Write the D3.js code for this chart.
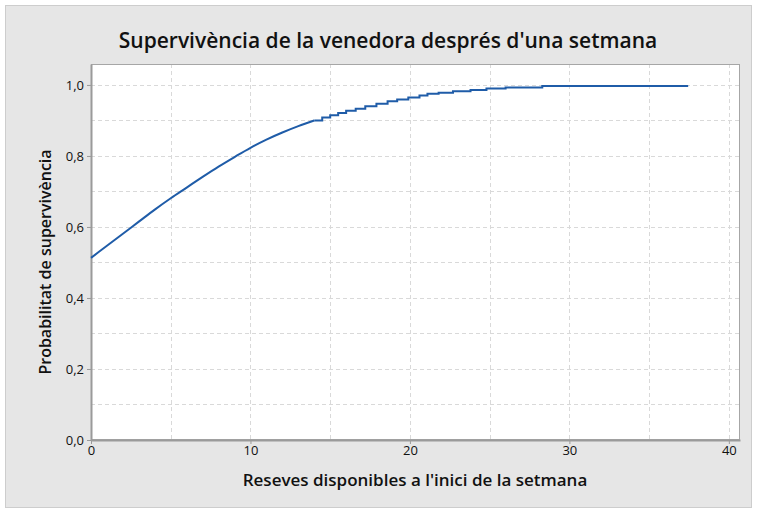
<!DOCTYPE html>
<html>
<head>
<meta charset="utf-8">
<script src="https://cdn.jsdelivr.net/npm/d3@7"></script>
<style>
  body { margin: 0; background: #fff; }
  text { font-family: "Open Sans", "Noto Sans", sans-serif; fill: #111; }
</style>
</head>
<body>
<div id="chart"></div>
<script>
// low stock: steps are too fine to see, read as a running line
var stockFine = [0, 1, 2, 3, 4, 5, 6, 7, 8, 9, 10, 11, 12, 13, 14];
var survivalFine = [0.513, 0.547, 0.581, 0.615, 0.649, 0.681, 0.711, 0.741, 0.770, 0.797,
                    0.823, 0.846, 0.866, 0.884, 0.900];
// higher stock: visible steps
var stockStep = [14, 14.5, 15, 15.5, 16, 16.6, 17.2, 17.9, 18.6, 19.2, 19.9, 20.6, 21.1, 21.8,
                 22.7, 23.8, 24.8, 26.0, 28.3, 37.45];
var survivalStep = [0.900, 0.908, 0.915, 0.921, 0.927, 0.933, 0.940, 0.947, 0.954, 0.959, 0.965,
                    0.970, 0.975, 0.978, 0.982, 0.986, 0.990, 0.993, 0.997, 0.997];
var xTicks = [0, 10, 20, 30, 40];
var yTicks = [0, 0.2, 0.4, 0.6, 0.8, 1.0];
var xGrid = [5, 10, 15, 20, 25, 30, 35, 40];
var yGrid = [0.1, 0.2, 0.3, 0.4, 0.5, 0.6, 0.7, 0.8, 0.9, 1.0];

var W = 758, H = 513;
var margin = {top: 64, right: 18, bottom: 73, left: 91},
    width = W - margin.left - margin.right,
    height = H - margin.top - margin.bottom;

var svg = d3.select("#chart")
    .append("svg")
        .attr("width", W)
        .attr("height", H);

// outer grey panel
svg.append("rect")
    .attr("x", 5.5).attr("y", 5.5)
    .attr("width", 746).attr("height", 502)
    .attr("fill", "#e6e6e6")
    .attr("stroke", "#cdcdcd");

svg.append("text")
    .attr("x", 388).attr("y", 48)
    .attr("text-anchor", "middle")
    .attr("font-size", "21px")
    .attr("font-weight", 600)
    .text("Supervivència de la venedora després d'una setmana");

var g = svg.append("g")
    .attr("transform", "translate(" + margin.left + "," + margin.top + ")");

var x = d3.scaleLinear().domain([0, 40.7]).range([0, width]);
var y = d3.scaleLinear().domain([0, 1.059]).range([height, 0]);

g.append("rect")
    .attr("width", width).attr("height", height)
    .attr("fill", "#fff");

// grid
g.append("g").selectAll("line")
    .data(xGrid).enter().append("line")
        .attr("x1", function(d){ return Math.round(x(d)) + 0.5; })
        .attr("x2", function(d){ return Math.round(x(d)) + 0.5; })
        .attr("y1", 0).attr("y2", height)
        .attr("stroke", "#d9d9d9")
        .attr("stroke-dasharray", "4,3");
g.append("g").selectAll("line")
    .data(yGrid).enter().append("line")
        .attr("y1", function(d){ return Math.round(y(d)) + 0.5; })
        .attr("y2", function(d){ return Math.round(y(d)) + 0.5; })
        .attr("x1", 0).attr("x2", width)
        .attr("stroke", "#d9d9d9")
        .attr("stroke-dasharray", "4,3");

// frame
g.append("rect")
    .attr("x", 0.5).attr("y", 0.5)
    .attr("width", width - 1).attr("height", height - 1)
    .attr("fill", "none")
    .attr("stroke", "#a6a6a6");

// axes
var xAxis = g.append("g")
    .attr("transform", "translate(0," + height + ")")
    .call(d3.axisBottom(x).tickValues(xTicks).tickSize(4).tickSizeOuter(0).tickPadding(2));
var yAxis = g.append("g")
    .call(d3.axisLeft(y).tickValues(yTicks).tickSize(4).tickSizeOuter(0).tickPadding(3)
        .tickFormat(function(d){ return d3.format(".1f")(d).replace(".", ","); }));
[xAxis, yAxis].forEach(function(a){
    a.select(".domain").attr("stroke", "#9a9a9a").attr("stroke-width", 2);
    a.selectAll(".tick line").attr("stroke", "#9a9a9a");
    a.selectAll(".tick text")
        .attr("font-size", "13px")
        .attr("fill", "#111")
        .style("font-family", "'Open Sans', 'Noto Sans', sans-serif");
});

// survival curve
var px = function(d){ return x(d[0]); },
    py = function(d){ return y(d[1]); };
var finePts = stockFine.map(function(d, i){ return [d, survivalFine[i]]; });
var stepPts = stockStep.map(function(d, i){ return [d, survivalStep[i]]; });
g.append("path")
    .datum(finePts)
    .attr("d", d3.line().x(px).y(py).curve(d3.curveMonotoneX))
    .attr("fill", "none")
    .attr("stroke", "#1f5ca8")
    .attr("stroke-width", 2);
g.append("path")
    .datum(stepPts)
    .attr("d", d3.line().x(px).y(py).curve(d3.curveStepAfter))
    .attr("fill", "none")
    .attr("stroke", "#1f5ca8")
    .attr("stroke-width", 2);

// axis titles
svg.append("text")
    .attr("x", 415).attr("y", 486)
    .attr("text-anchor", "middle")
    .attr("font-size", "17px")
    .attr("font-weight", 600)
    .text("Reseves disponibles a l'inici de la setmana");

svg.append("text")
    .attr("transform", "translate(51,262) rotate(-90)")
    .attr("text-anchor", "middle")
    .attr("font-size", "16px")
    .attr("font-weight", 600)
    .text("Probabilitat de supervivència");
</script>
</body>
</html>
